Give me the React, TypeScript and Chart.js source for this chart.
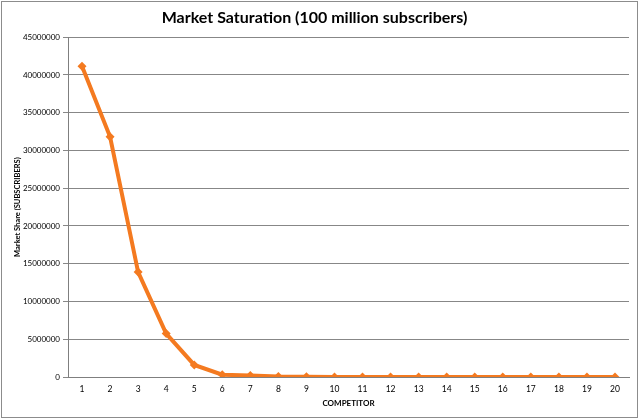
import React, { useEffect, useRef } from "react";
import { Chart, registerables } from "chart.js";

Chart.register(...registerables);

const competitors = ["1", "2", "3", "4", "5", "6", "7", "8", "9", "10", "11", "12", "13", "14", "15", "16", "17", "18", "19", "20"];
const subscribers = [41150000, 31800000, 13900000, 5750000, 1600000, 300000, 200000, 50000, 30000, 10000, 5000, 3000, 2000, 1000, 1000, 500, 500, 300, 200, 100];

const FONT = "Lato, 'Open Sans', sans-serif";

// outer border like the spreadsheet chart frame
const framePlugin = {
  id: "frame",
  beforeDraw(chart: Chart) {
    const ctx = chart.ctx;
    ctx.save();
    ctx.fillStyle = "#ffffff";
    ctx.fillRect(0, 0, chart.width, chart.height);
    ctx.strokeStyle = "#8c8c8c";
    ctx.lineWidth = 1;
    ctx.strokeRect(1.5, 1.5, chart.width - 4, chart.height - 3);
    ctx.restore();
  },
};

const App: React.FC = () => {
  const chartRef = useRef<HTMLCanvasElement | null>(null);
  const chartInstance = useRef<Chart | null>(null);

  useEffect(() => {
    document.body.style.margin = "0";
    if (chartRef.current) {
      if (chartInstance.current) {
        chartInstance.current.destroy();
      }
      const ctx = chartRef.current.getContext("2d");
      if (ctx) {
        chartInstance.current = new Chart(ctx, {
          type: "line",
          data: {
            labels: competitors,
            datasets: [
              {
                label: "Market Share",
                data: subscribers,
                borderColor: "#f47a20",
                backgroundColor: "#f47a20",
                borderWidth: 4,
                pointStyle: "rectRot",
                pointRadius: 4.5,
                pointBorderWidth: 0,
                tension: 0,
              },
            ],
          },
          options: {
            animation: false,
            responsive: false,
            layout: { padding: { left: 0, right: 11, top: 0, bottom: 0 } },
            plugins: {
              legend: { display: false },
              tooltip: { enabled: false },
              title: {
                display: true,
                text: "Market Saturation (100 million subscribers)",
                color: "#000000",
                font: { family: FONT, size: 16, weight: "bold" },
                padding: { top: 8, bottom: 10 },
              },
            },
            scales: {
              x: {
                offset: true,
                grid: { display: false, drawTicks: false },
                border: { display: true, color: "#7f7f7f", width: 1 },
                ticks: {
                  color: "#000000",
                  font: { family: FONT, size: 8.5 },
                  padding: 7,
                  maxRotation: 0,
                },
                title: {
                  display: true,
                  text: "COMPETITOR",
                  color: "#000000",
                  font: { family: FONT, size: 8, weight: "bold" },
                  padding: { top: 4, bottom: 11 },
                },
                afterFit(scale: any) {
                  scale.height = 42;
                },
              },
              y: {
                min: 0,
                max: 45000000,
                grid: {
                  color: "#878787",
                  lineWidth: 1,
                  drawTicks: true,
                  tickLength: 5,
                },
                border: { display: true, color: "#7f7f7f", width: 1 },
                ticks: {
                  stepSize: 5000000,
                  color: "#000000",
                  font: { family: FONT, size: 8 },
                  padding: 3,
                  callback: (v: any) => String(v),
                },
                title: {
                  display: true,
                  text: "Market Share (SUBSCRIBERS)",
                  color: "#000000",
                  font: { family: FONT, size: 7.5, weight: "bold" },
                  padding: { top: 13, bottom: 2 },
                },
                afterFit(scale: any) {
                  scale.width = 68;
                },
              },
            },
          },
          plugins: [framePlugin],
        });
      }
    }

    return () => {
      if (chartInstance.current) {
        chartInstance.current.destroy();
        chartInstance.current = null;
      }
    };
  }, []);

  return (
    <div style={{ position: "absolute", left: 0, top: 0, width: 640, height: 419 }}>
      <canvas ref={chartRef} width={640} height={419} style={{ width: 640, height: 419 }} />
    </div>
  );
};

export default App;
